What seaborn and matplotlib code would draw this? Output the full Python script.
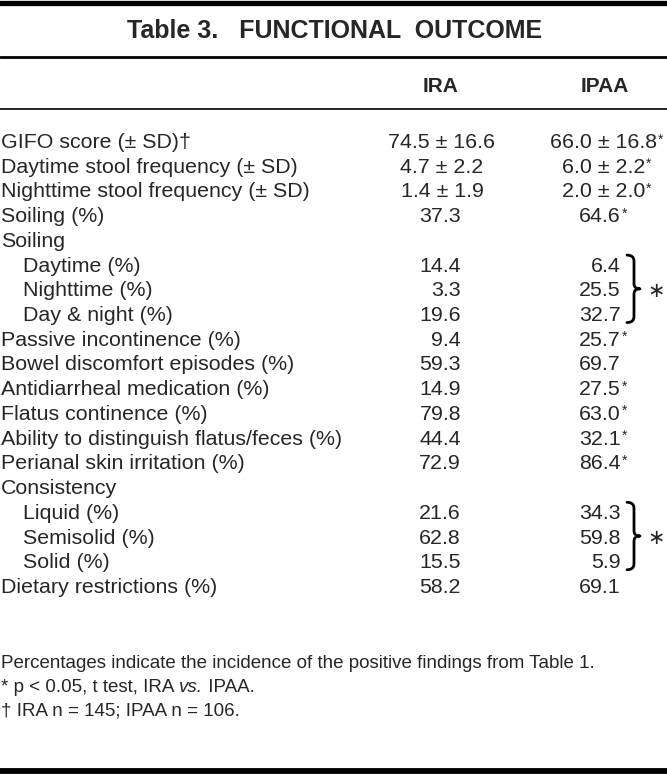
import matplotlib
matplotlib.use("Agg")
import matplotlib.pyplot as plt
import seaborn as sns
from matplotlib.path import Path
from matplotlib.patches import PathPatch

sns.set_theme(style="white")
plt.rcParams['font.family'] = ['Liberation Sans', 'DejaVu Sans']

title = "Table 3.   FUNCTIONAL  OUTCOME"
col_headers = ["IRA", "IPAA"]

labels = [
    "GIFO score (± SD)†",
    "Daytime stool frequency (± SD)",
    "Nighttime stool frequency (± SD)",
    "Soiling (%)",
    "Soiling",
    "Daytime (%)",
    "Nighttime (%)",
    "Day & night (%)",
    "Passive incontinence (%)",
    "Bowel discomfort episodes (%)",
    "Antidiarrheal medication (%)",
    "Flatus continence (%)",
    "Ability to distinguish flatus/feces (%)",
    "Perianal skin irritation (%)",
    "Consistency",
    "Liquid (%)",
    "Semisolid (%)",
    "Solid (%)",
    "Dietary restrictions (%)",
]
indent = [0, 0, 0, 0, 0, 1, 1, 1, 0, 0, 0, 0, 0, 0, 0, 1, 1, 1, 0]
ira_values = ["74.5 ± 16.6", "4.7 ± 2.2", "1.4 ± 1.9", "37.3", "",
              "14.4", "3.3", "19.6", "9.4", "59.3", "14.9", "79.8", "44.4", "72.9", "",
              "21.6", "62.8", "15.5", "58.2"]
ipaa_values = ["66.0 ± 16.8", "6.0 ± 2.2", "2.0 ± 2.0", "64.6", "",
               "6.4", "25.5", "32.7", "25.7", "69.7", "27.5", "63.0", "32.1", "86.4", "",
               "34.3", "59.8", "5.9", "69.1"]
ipaa_sig = [1, 1, 1, 1, 0, 0, 0, 0, 1, 0, 1, 1, 1, 1, 0, 0, 0, 0, 0]
brace_groups = [(5, 7), (15, 17)]

footnotes = [
    "Percentages indicate the incidence of the positive findings from Table 1.",
    None,
    "† IRA n = 145; IPAA n = 106.",
]

W, H = 667, 774
fig = plt.figure(figsize=(W / 100, H / 100), dpi=100)
ax = fig.add_axes([0, 0, 1, 1])
ax.set_xlim(0, W)
ax.set_ylim(H, 0)
ax.axis("off")

FS = 15.4
FN = 13.5
# rules
ax.axhline(2.5, color="black", lw=3.8)
ax.axhline(57, color="black", lw=2.0)
ax.axhline(108.5, color="black", lw=1.2)
ax.axhline(771, color="black", lw=4.2)

ax.text(W / 2 + 1, 31, title, ha="center", va="center", fontsize=18, fontweight="bold")
ax.text(441, 86, col_headers[0], ha="center", va="center", fontsize=15, fontweight="bold")
ax.text(605, 86, col_headers[1], ha="center", va="center", fontsize=15, fontweight="bold")

y0, dy = 140.5, 24.72
for i, lab in enumerate(labels):
    yb = y0 + i * dy + 7.5
    ax.text(1 + 22 * indent[i], yb, lab, ha="left", va="baseline", fontsize=FS)
    v1, v2 = ira_values[i], ipaa_values[i]
    if v1:
        if "±" in v1:
            ax.text(442, yb, v1, ha="center", va="baseline", fontsize=FS)
        else:
            ax.text(461, yb, v1, ha="right", va="baseline", fontsize=FS)
    if v2:
        if "±" in v2:
            t = ax.text(604, yb, v2, ha="center", va="baseline", fontsize=FS)
        else:
            t = ax.text(621, yb, v2, ha="right", va="baseline", fontsize=FS)
        if ipaa_sig[i]:
            ax.annotate("*", xy=(1, 1), xycoords=t, ha="left", va="top",
                        fontsize=10, xytext=(0.3, 0.5), textcoords="offset points")

for a, b in brace_groups:
    top = y0 + a * dy - 9
    bot = y0 + b * dy + 9
    mid = (top + bot) / 2
    x0, xv, xt = 627, 634, 640
    verts = [(x0, top),
             (xv, top), (xv, top + 6),
             (xv, mid - 5),
             (xv, mid), (xt, mid),
             (xv, mid), (xv, mid + 5),
             (xv, bot - 6),
             (xv, bot), (x0, bot)]
    codes = [Path.MOVETO,
             Path.CURVE3, Path.CURVE3,
             Path.LINETO,
             Path.CURVE3, Path.CURVE3,
             Path.CURVE3, Path.CURVE3,
             Path.LINETO,
             Path.CURVE3, Path.CURVE3]
    ax.add_patch(PathPatch(Path(verts, codes), fill=False, lw=2.0, color="black",
                           capstyle="round", joinstyle="round"))
    ax.text(656, mid + 2, "∗", ha="center", va="center", fontsize=15,
            family=["DejaVu Sans"])

fy0, fdy = 661, 24
ax.text(1, fy0 + 6.5, footnotes[0], ha="left", va="baseline", fontsize=FN)
t1 = ax.text(1, fy0 + fdy + 6.5, "* p < 0.05, t test, IRA ", ha="left", va="baseline", fontsize=FN)
t2 = ax.annotate("vs.", xy=(1, 0), xycoords=t1, ha="left", va="bottom",
                 fontsize=FN, style="italic")
ax.annotate(" IPAA.", xy=(1, 0), xycoords=t2, ha="left", va="bottom", fontsize=FN)
ax.text(1, fy0 + 2 * fdy + 6.5, footnotes[2], ha="left", va="baseline", fontsize=FN)

fig.savefig("out.png", dpi=100, facecolor="white")
